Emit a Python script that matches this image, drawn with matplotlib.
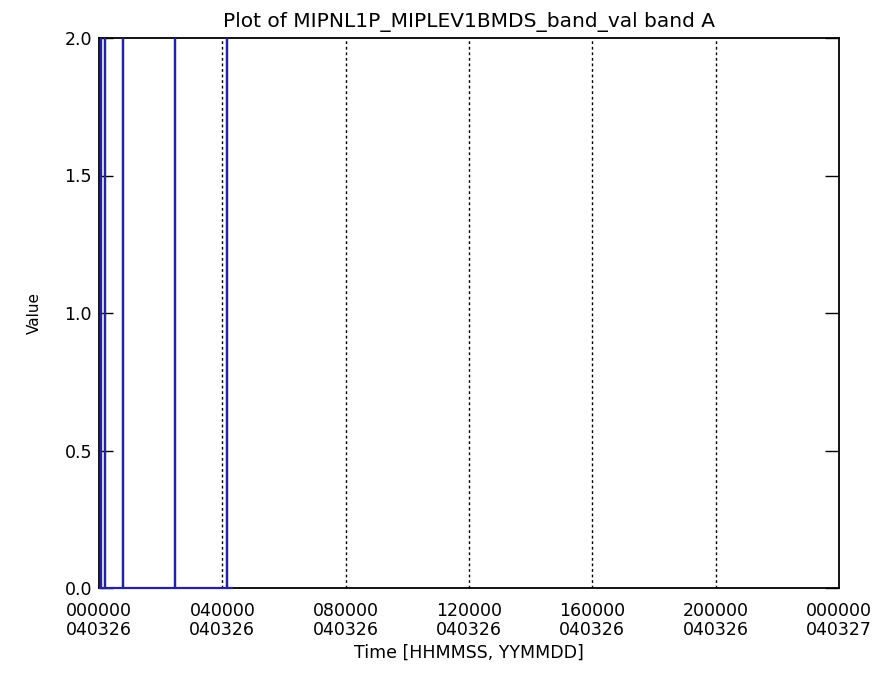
import matplotlib
matplotlib.use("Agg")
import matplotlib.pyplot as plt
from matplotlib.transforms import Bbox, TransformedBbox

# time in hours since 2004-03-26 00:00:00, value of band A
hours = [0.0, 0.06, 0.06, 0.06, 0.2, 0.2, 0.2, 0.78, 0.78, 0.78,
         2.47, 2.47, 2.47, 4.15, 4.15, 4.15, 4.3]
values = [0.0, 0.0, 9.0, 0.0, 0.0, 9.0, 0.0, 0.0, 9.0, 0.0,
          0.0, 9.0, 0.0, 0.0, 9.0, 0.0, 0.0]

tick_hours = [0, 4, 8, 12, 16, 20, 24]
tick_labels = ["000000\n040326", "040000\n040326", "080000\n040326",
               "120000\n040326", "160000\n040326", "200000\n040326",
               "000000\n040327"]
y_ticks = [0.0, 0.5, 1.0, 1.5, 2.0]

fig = plt.figure(figsize=(8.89, 6.85), dpi=100)
ax = fig.add_axes([99 / 889, 1 - 588 / 685, 740 / 889, 550 / 685])

line, = ax.plot(hours, values, color="#23239a", lw=1.6, zorder=3)
# let the zero-level trace show over the bottom axis like the original
line.set_clip_box(TransformedBbox(Bbox([[0, -0.005], [1, 1]]), ax.transAxes))

ax.set_xlim(0, 24)
ax.set_ylim(0, 2.0)

ax.set_xticks(tick_hours)
ax.set_xticklabels(tick_labels, fontsize=12.5, linespacing=1.1)
ax.tick_params(axis="x", length=0, pad=10)
for h in tick_hours[1:-1]:
    ax.axvline(h, color="black", lw=1.0, ls=(0, (2, 2)), zorder=1)

ax.set_yticks(y_ticks)
ax.set_yticklabels([f"{v:.1f}" for v in y_ticks], fontsize=12.5)
ax.tick_params(axis="y", direction="in", length=10, width=1.0,
               left=True, right=True, pad=5)

for s in ax.spines.values():
    s.set_linewidth(1.3)

ax.set_title("Plot of MIPNL1P_MIPLEV1BMDS_band_val band A", fontsize=14.5, pad=8)
ax.set_xlabel("Time [HHMMSS, YYMMDD]", fontsize=12.5, labelpad=3)
ax.set_ylabel("Value", fontsize=11, labelpad=16)

fig.savefig("out.png", dpi=100)
